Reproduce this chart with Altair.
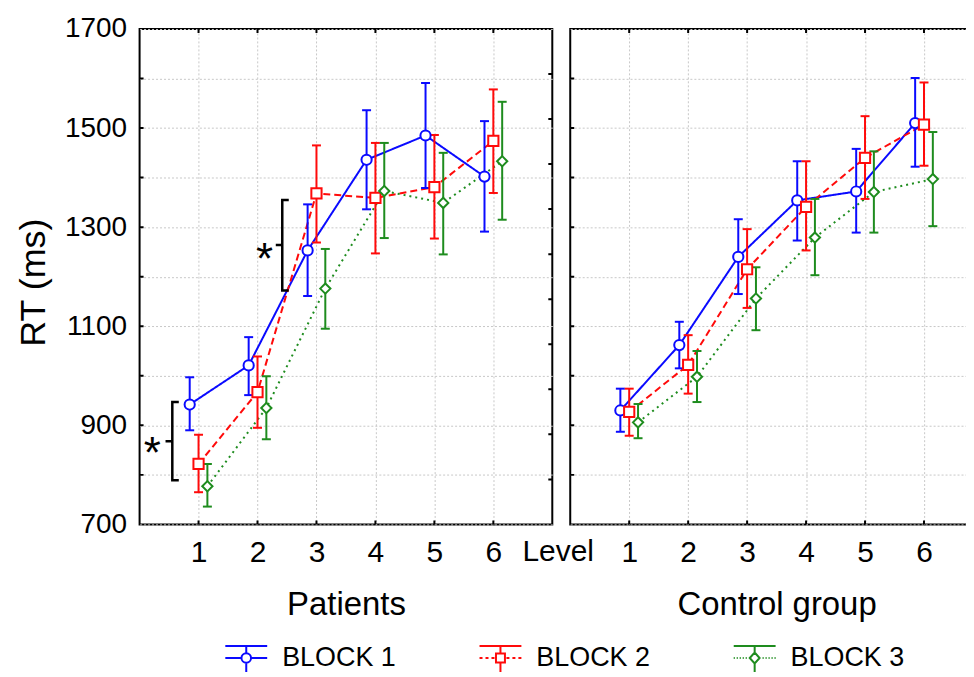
import altair as alt
import pandas as pd

# ---------------- data ----------------
levels = [1, 2, 3, 4, 5, 6]
blocks = ["BLOCK 1", "BLOCK 2", "BLOCK 3"]
panels = ["Patients", "Control group"]

pat_b1_mean = [942, 1021, 1253, 1436, 1485, 1402]
pat_b1_low = [890, 961, 1161, 1336, 1379, 1291]
pat_b1_high = [997, 1078, 1346, 1536, 1591, 1514]
pat_b2_mean = [822, 967, 1368, 1359, 1381, 1474]
pat_b2_low = [765, 895, 1269, 1247, 1277, 1369]
pat_b2_high = [881, 1039, 1465, 1470, 1486, 1578]
pat_b3_mean = [777, 935, 1176, 1373, 1349, 1433]
pat_b3_low = [736, 872, 1095, 1278, 1245, 1315]
pat_b3_high = [822, 999, 1256, 1470, 1450, 1553]

con_b1_mean = [930, 1062, 1240, 1354, 1372, 1510]
con_b1_low = [887, 1015, 1165, 1273, 1289, 1422]
con_b1_high = [974, 1109, 1316, 1433, 1458, 1601]
con_b2_mean = [927, 1022, 1215, 1341, 1440, 1507]
con_b2_low = [879, 964, 1137, 1253, 1357, 1424]
con_b2_high = [974, 1082, 1296, 1433, 1524, 1592]
con_b3_mean = [906, 998, 1156, 1279, 1371, 1397]
con_b3_low = [874, 947, 1092, 1203, 1289, 1302]
con_b3_high = [943, 1050, 1219, 1357, 1453, 1492]

y_grid = [700, 800, 900, 1000, 1100, 1200, 1300, 1400, 1500, 1600, 1700]
right_ticks = [790.9, 881.8, 972.7, 1063.6, 1154.5, 1245.5, 1336.4, 1427.3, 1518.2, 1609.1]

# significance annotations (Patients panel), in level / RT units
bracket_id = [1, 1, 1, 1, 1, 1, 1, 2, 2, 2, 2, 2, 2, 2]
bracket_ord = [0, 1, 2, 3, 4, 5, 6, 0, 1, 2, 3, 4, 5, 6]
bracket_x = [0.665, 0.555, 0.555, 0.44, 0.555, 0.555, 0.665,
             2.53, 2.42, 2.42, 2.31, 2.42, 2.42, 2.53]
bracket_y = [947, 947, 868, 868, 868, 789, 789,
             1355, 1355, 1264, 1264, 1264, 1172, 1172]
star_x = [0.215, 2.12]
star_y = [864, 1256]

# ---------------- styling ----------------
FONT = "Liberation Sans"
colors = {"BLOCK 1": "#0a0aff", "BLOCK 2": "#ff0a0a", "BLOCK 3": "#1e8c1e"}
dashes = {"BLOCK 1": [1, 0], "BLOCK 2": [7, 4], "BLOCK 3": [2, 4]}
shapes = {"BLOCK 1": "circle", "BLOCK 2": "square", "BLOCK 3": "diamond"}
GRID = "#c8c8c8"

# legend symbols: unit = 15 px, symbol spans +-1.4 units (42 px)
cap_v = "M-1.4,-0.8H1.4M0,-0.8V-0.32M0,0.32V1.0"
legend_paths = [
    cap_v + "M-1.4,0H-0.32M0.32,0H1.4"
    + "M-0.32,0A0.32,0.32 0 1,0 0.32,0A0.32,0.32 0 1,0 -0.32,0Z",
    cap_v + "M-1.4,0H-1.2M-1.0,0H-0.8M-0.6,0H-0.4M0.4,0H0.6M0.8,0H1.0M1.2,0H1.4"
    + "M-0.3,-0.3H0.3V0.3H-0.3Z",
    cap_v + "M-1.4,0H-1.33M-1.2,0H-1.13M-1.0,0H-0.93M-0.8,0H-0.73M-0.6,0H-0.53"
    + "M0.53,0H0.6M0.73,0H0.8M0.93,0H1.0M1.13,0H1.2M1.33,0H1.4"
    + "M0,-0.37L0.33,0L0,0.37L-0.33,0Z",
]

rows = []
src = {
    ("Patients", "BLOCK 1"): (pat_b1_mean, pat_b1_low, pat_b1_high),
    ("Patients", "BLOCK 2"): (pat_b2_mean, pat_b2_low, pat_b2_high),
    ("Patients", "BLOCK 3"): (pat_b3_mean, pat_b3_low, pat_b3_high),
    ("Control group", "BLOCK 1"): (con_b1_mean, con_b1_low, con_b1_high),
    ("Control group", "BLOCK 2"): (con_b2_mean, con_b2_low, con_b2_high),
    ("Control group", "BLOCK 3"): (con_b3_mean, con_b3_low, con_b3_high),
}
for (panel, block), (m, lo, hi) in src.items():
    for lv, a, b, c in zip(levels, m, lo, hi):
        rows.append({"panel": panel, "block": block, "level": lv,
                     "mean": a, "low": b, "high": c})
df = pd.DataFrame(rows)

brackets = pd.DataFrame({"id": bracket_id, "ord": bracket_ord,
                         "x": bracket_x, "y": bracket_y})
stars = pd.DataFrame({"x": star_x, "y": star_y, "t": ["*", "*"]})
legend_df = pd.DataFrame({"block": blocks})

XPOS = ("datum.level + (datum.block == 'BLOCK 1' ? -0.15 : "
        "(datum.block == 'BLOCK 3' ? 0.15 : 0))")


def make_panel(name, first):
    xscale = alt.Scale(domain=[0, 7], nice=False, zero=False)
    yscale = alt.Scale(domain=[700, 1700], nice=False, zero=False)
    xaxis = alt.Axis(values=levels, ticks=False, domain=False, grid=True,
                     gridColor=GRID, gridDash=[2, 2], gridWidth=1,
                     labelFontSize=30, labelPadding=13, labelAngle=0,
                     labelFont=FONT, labelColor="black", format="d",
                     titleFontSize=33, titleFont=FONT, titleFontWeight="normal",
                     titleColor="black", titlePadding=21)
    if first:
        yaxis = alt.Axis(values=y_grid, ticks=False, domain=False, grid=True,
                         gridColor=GRID, gridDash=[2, 2], gridWidth=1,
                         labelFontSize=28, labelPadding=13, labelFont=FONT,
                         labelColor="black", format="d",
                         labelExpr="datum.value % 200 == 0 ? '' : datum.label",
                         titleFontSize=36, titleFont=FONT,
                         titleFontWeight="normal", titleColor="black",
                         titlePadding=12, titleY=254)
        ytitle = "RT (ms)"
    else:
        yaxis = alt.Axis(values=y_grid, ticks=False, domain=False, grid=True,
                         gridColor=GRID, gridDash=[2, 2], gridWidth=1,
                         labels=False)
        ytitle = None

    def X(f):
        return alt.X(f, type="quantitative", scale=xscale, axis=xaxis, title=name)

    def Y(f):
        return alt.Y(f, type="quantitative", scale=yscale, axis=yaxis, title=ytitle)

    base = (alt.Chart(df)
            .transform_filter(alt.datum.panel == name)
            .transform_calculate(xpos=XPOS))

    layers = []
    for b in blocks:
        d = base.transform_filter(alt.datum.block == b)
        layers.append(d.mark_line(color=colors[b], strokeWidth=2,
                                  strokeDash=dashes[b])
                      .encode(x=X("xpos"), y=Y("mean")))
    for b in blocks:
        d = base.transform_filter(alt.datum.block == b)
        layers.append(d.mark_rule(color=colors[b], strokeWidth=2)
                      .encode(x=X("xpos"), y=Y("low"), y2=alt.Y2("high")))
        for f in ["low", "high"]:
            layers.append(d.mark_tick(color=colors[b], orient="horizontal",
                                      size=9, thickness=2, opacity=1)
                          .encode(x=X("xpos"), y=Y(f)))
    for b in blocks:
        d = base.transform_filter(alt.datum.block == b)
        layers.append(d.mark_point(shape=shapes[b], filled=True, fill="white",
                                   stroke=colors[b], strokeWidth=2,
                                   size=105, opacity=1)
                      .encode(x=X("xpos"), y=Y("mean")))

    # inward frame ticks
    tx, ty, to = [], [], []
    for v in y_grid[1:-1]:
        tx.append(0); ty.append(v); to.append("h")
    if first:
        for v in right_ticks:
            tx.append(7); ty.append(v); to.append("h")
    for lv in levels:
        tx += [lv, lv]; ty += [700, 1700]; to += ["v", "v"]
    ticks = pd.DataFrame({"x": tx, "y": ty, "o": to})
    tk = alt.Chart(ticks)
    layers.append(tk.transform_filter(alt.datum.o == "h")
                  .mark_tick(orient="horizontal", size=8, thickness=2,
                             color="black", opacity=1, clip=True)
                  .encode(x=X("x"), y=Y("y")))
    layers.append(tk.transform_filter(alt.datum.o == "v")
                  .mark_tick(orient="vertical", size=8, thickness=2,
                             color="black", opacity=1, clip=True)
                  .encode(x=X("x"), y=Y("y")))

    if first:
        layers.append(alt.Chart(brackets)
                      .mark_line(color="black", strokeWidth=2.5)
                      .encode(x=X("x"), y=Y("y"), detail="id:N",
                              order="ord:Q"))
        layers.append(alt.Chart(stars)
                      .mark_text(fontSize=44, font=FONT, baseline="alphabetic",
                                 dy=25, color="black")
                      .encode(x=X("x"), y=Y("y"), text="t:N"))
        lvl = pd.DataFrame({"x": [7.1], "y": [700], "t": ["Level"]})
        layers.append(alt.Chart(lvl)
                      .mark_text(fontSize=30, font=FONT, baseline="top",
                                 dy=13, color="black")
                      .encode(x=X("x"), y=Y("y"), text="t:N"))
        leg = alt.Legend(orient="none", legendX=91, legendY=615,
                         direction="horizontal", title=None,
                         symbolSize=900, symbolStrokeWidth=2,
                         symbolFillColor="white", labelFontSize=27,
                         labelFont=FONT, labelColor="black", labelOffset=20,
                         columnPadding=79, padding=0, labelLimit=300)
        layers.append(alt.Chart(legend_df)
                      .transform_filter("false")
                      .mark_point(filled=False, strokeWidth=2, opacity=1)
                      .encode(color=alt.Color("block:N",
                                              scale=alt.Scale(domain=blocks,
                                                              range=[colors[b] for b in blocks]),
                                              legend=leg),
                              shape=alt.Shape("block:N",
                                              scale=alt.Scale(domain=blocks,
                                                              range=legend_paths),
                                              legend=leg)))

    return alt.layer(*layers).properties(width=414, height=497)


left = make_panel("Patients", True)
right = make_panel("Control group", False)

chart = (alt.hconcat(left, right, spacing=18, bounds="flush")
         .properties(padding={"left": 6, "top": 5, "right": -18, "bottom": -6})
         .configure(font=FONT)
         .configure_view(stroke="black", strokeWidth=2))

chart.save("out.html", embed_options={"renderer": "svg", "actions": False})
